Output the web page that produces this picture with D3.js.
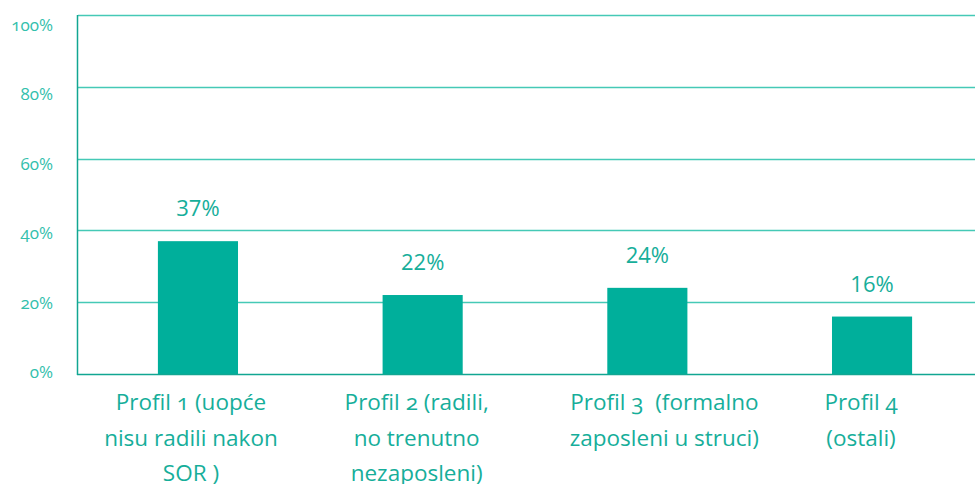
<!DOCTYPE html>
<html>
<head>
<meta charset="utf-8">
<script src="https://cdn.jsdelivr.net/npm/d3@7"></script>
<style>
  html, body { margin: 0; padding: 0; background: #fff; }
  svg { display: block; }
</style>
</head>
<body>
<div id="chart"></div>
<script>
// Data
const categories = ["Profil 1", "Profil 2", "Profil 3", "Profil 4"];
const categoryLines = [
  ["Profil 1 (uopće", "nisu radili nakon", "SOR )"],
  ["Profil 2 (radili,", "no trenutno", "nezaposleni)"],
  ["Profil 3  (formalno", "zaposleni u struci)"],
  ["Profil 4", "(ostali)"]
];
const values = [37, 22, 24, 16];
const yTicks = [0, 20, 40, 60, 80, 100];

const svgWidth = 975;
const svgHeight = 484;

const plotLeft = 78,
  plotRight = 975,
  plotTop = 15,
  plotBottom = 374;

const barColor = "#00af9b";
const textColor = "#16ae9a";
const gridColor = "#45c9b6";
const axisColor = "#12a692";

const svg = d3
  .select("#chart")
  .append("svg")
  .attr("width", svgWidth)
  .attr("height", svgHeight);

// Scales
const xScale = d3
  .scaleBand()
  .domain(categories)
  .range([86, 984])
  .paddingInner(0.6435)
  .paddingOuter(0.32);

const yScale = d3.scaleLinear().domain([0, 100]).range([plotBottom, plotTop]);
// tick labels sit on a slightly tighter spacing than the gridlines
const yLabelScale = d3.scaleLinear().domain([0, 100]).range([372, 25]);

// Gridlines
svg
  .append("g")
  .selectAll("line")
  .data(yTicks.filter((d) => d > 0))
  .join("line")
  .attr("x1", plotLeft)
  .attr("x2", plotRight)
  .attr("y1", (d) => Math.round(yScale(d)) + 0.5)
  .attr("y2", (d) => Math.round(yScale(d)) + 0.5)
  .attr("stroke", gridColor)
  .attr("stroke-width", 1.3);

// Tick labels
svg
  .append("g")
  .selectAll("text")
  .data(yTicks)
  .join("text")
  .attr("x", 53)
  .attr("y", (d) => yLabelScale(d))
  .attr("dy", "0.35em")
  .attr("text-anchor", "end")
  .style("font-family", "'Open Sans', sans-serif")
  .style("font-weight", 400)
  .style("font-size", "17px")
  .style("font-variant-numeric", "oldstyle-nums")
  .attr("fill", "#33c0ac")
  .text((d) => d + "%");

// Bars
svg
  .append("g")
  .selectAll("rect")
  .data(values)
  .join("rect")
  .attr("x", (d, i) => xScale(categories[i]))
  .attr("y", (d) => yScale(d))
  .attr("width", xScale.bandwidth())
  .attr("height", (d) => yScale(0) - yScale(d))
  .attr("fill", barColor);

// Axes lines
svg
  .append("line")
  .attr("x1", plotLeft - 0.5)
  .attr("x2", plotLeft - 0.5)
  .attr("y1", plotTop)
  .attr("y2", plotBottom + 1)
  .attr("stroke", axisColor)
  .attr("stroke-width", 1.5);

svg
  .append("line")
  .attr("x1", plotLeft - 1)
  .attr("x2", plotRight)
  .attr("y1", plotBottom + 0.5)
  .attr("y2", plotBottom + 0.5)
  .attr("stroke", axisColor)
  .attr("stroke-width", 1.5);

// Value labels
svg
  .append("g")
  .selectAll("text")
  .data(values)
  .join("text")
  .attr("x", (d, i) => xScale(categories[i]) + xScale.bandwidth() / 2)
  .attr("y", (d) => yScale(d) - 25)
  .attr("text-anchor", "middle")
  .style("font-family", "'Open Sans', sans-serif")
  .style("font-size", "22px")
  .attr("fill", textColor)
  .text((d) => d + "%");

// Category labels
const labelDx = [-7, -6, 17, -11];
const catGroups = svg
  .append("g")
  .selectAll("text")
  .data(categoryLines)
  .join("text")
  .attr("text-anchor", "middle")
  .attr("xml:space", "preserve")
  .style("white-space", "pre")
  .style("font-family", "'Open Sans', sans-serif")
  .style("font-size", "22.5px")
  .style("font-variant-numeric", "oldstyle-nums")
  .attr("fill", textColor);

catGroups
  .selectAll("tspan")
  .data((d, i) => d.map((line) => ({ line, i })))
  .join("tspan")
  .attr("x", (d) => xScale(categories[d.i]) + xScale.bandwidth() / 2 + labelDx[d.i])
  .attr("y", (d, j) => 410 + j * 35.5)
  .text((d) => d.line);
</script>
</body>
</html>
